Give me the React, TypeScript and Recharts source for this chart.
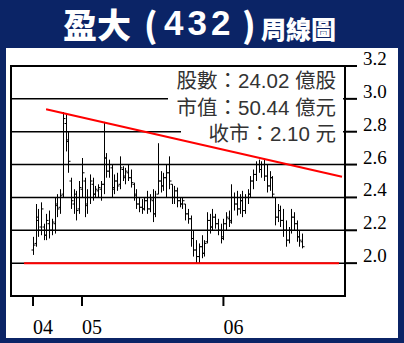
import React from "react";
import {
  ComposedChart,
  Bar,
  XAxis,
  YAxis,
  CartesianGrid,
  ReferenceLine,
  ReferenceArea,
} from "recharts";

// weekly bars, one entry per week (index = week number from first bar)
const highs = [
  2.16, 2.36, 2.33, 2.37, 2.24, 2.3, 2.32, 2.27, 2.4, 2.42,
  2.45, 2.92, 2.91, 2.8, 2.52, 2.45, 2.44, 2.5, 2.64, 2.52,
  2.45, 2.54, 2.52, 2.47, 2.48, 2.5, 2.86, 2.67, 2.63, 2.6,
  2.54, 2.55, 2.65, 2.59, 2.58, 2.6, 2.57, 2.49, 2.45, 2.4,
  2.39, 2.4, 2.44, 2.42, 2.45, 2.44, 2.73, 2.56, 2.55, 2.6,
  2.65, 2.48, 2.47, 2.46, 2.4, 2.4, 2.36, 2.33, 2.29, 2.2,
  2.14, 2.12, 2.17, 2.14, 2.31, 2.3, 2.33, 2.3, 2.27, 2.24,
  2.27, 2.31, 2.32, 2.48, 2.43, 2.44, 2.42, 2.44, 2.42, 2.45,
  2.53, 2.57, 2.62, 2.63, 2.62, 2.63, 2.6, 2.56, 2.53, 2.4,
  2.36, 2.35, 2.33, 2.26, 2.22, 2.33, 2.31, 2.26, 2.2, 2.18,
];
const lows = [
  2.05, 2.1, 2.16, 2.17, 2.14, 2.14, 2.15, 2.17, 2.18, 2.28,
  2.3, 2.4, 2.68, 2.55, 2.33, 2.3, 2.26, 2.3, 2.4, 2.28,
  2.3, 2.36, 2.38, 2.4, 2.4, 2.38, 2.42, 2.52, 2.52, 2.4,
  2.42, 2.44, 2.45, 2.5, 2.48, 2.5, 2.46, 2.38, 2.33, 2.31,
  2.3, 2.32, 2.3, 2.31, 2.25, 2.28, 2.42, 2.43, 2.44, 2.4,
  2.45, 2.36, 2.36, 2.34, 2.34, 2.33, 2.26, 2.24, 2.1, 2.04,
  2.0, 2.0, 2.03, 2.04, 2.12, 2.18, 2.2, 2.21, 2.17, 2.12,
  2.14, 2.2, 2.22, 2.24, 2.32, 2.29, 2.3, 2.28, 2.3, 2.36,
  2.4, 2.45, 2.5, 2.55, 2.52, 2.5, 2.43, 2.44, 2.4, 2.23,
  2.25, 2.22, 2.16, 2.1, 2.12, 2.18, 2.2, 2.13, 2.1, 2.09,
];
const opens = [
  2.08, 2.12, 2.26, 2.22, 2.22, 2.17, 2.24, 2.2, 2.24, 2.35,
  2.34, 2.42, 2.85, 2.75, 2.5, 2.36, 2.4, 2.33, 2.45, 2.5,
  2.36, 2.4, 2.48, 2.42, 2.44, 2.45, 2.48, 2.64, 2.56, 2.58,
  2.46, 2.5, 2.48, 2.57, 2.52, 2.55, 2.52, 2.48, 2.42, 2.36,
  2.34, 2.33, 2.38, 2.33, 2.38, 2.3, 2.42, 2.5, 2.47, 2.52,
  2.55, 2.48, 2.4, 2.44, 2.38, 2.36, 2.36, 2.3, 2.27, 2.15,
  2.08, 2.04, 2.1, 2.06, 2.13, 2.26, 2.22, 2.28, 2.24, 2.2,
  2.16, 2.24, 2.27, 2.26, 2.4, 2.36, 2.33, 2.38, 2.32, 2.4,
  2.42, 2.5, 2.54, 2.6, 2.57, 2.6, 2.53, 2.47, 2.52, 2.4,
  2.28, 2.32, 2.26, 2.2, 2.14, 2.2, 2.28, 2.24, 2.16, 2.13,
];
const closes = [
  2.11, 2.28, 2.2, 2.33, 2.17, 2.26, 2.2, 2.25, 2.36, 2.33,
  2.41, 2.88, 2.74, 2.62, 2.38, 2.42, 2.32, 2.46, 2.55, 2.35,
  2.4, 2.5, 2.42, 2.45, 2.46, 2.48, 2.64, 2.56, 2.6, 2.45,
  2.5, 2.47, 2.58, 2.53, 2.56, 2.52, 2.49, 2.41, 2.36, 2.34,
  2.33, 2.38, 2.33, 2.39, 2.3, 2.4, 2.5, 2.47, 2.52, 2.55,
  2.5, 2.4, 2.44, 2.38, 2.36, 2.38, 2.3, 2.27, 2.15, 2.08,
  2.04, 2.1, 2.06, 2.12, 2.26, 2.22, 2.28, 2.24, 2.2, 2.15,
  2.24, 2.28, 2.25, 2.4, 2.36, 2.33, 2.38, 2.32, 2.4, 2.42,
  2.5, 2.54, 2.6, 2.57, 2.6, 2.53, 2.47, 2.52, 2.42, 2.28,
  2.32, 2.26, 2.2, 2.14, 2.2, 2.28, 2.24, 2.16, 2.14, 2.1,
];

const yTicks = [2.0, 2.2, 2.4, 2.6, 2.8, 3.0, 3.2];
const xTickWeeks = [0, 18, 70];
const xTickLabels = ["04", "05", "06"];

// trend lines: [start, end] as (week, price)
const resistanceWeeks = [4.8, 113.6];
const resistancePrices = [2.937, 2.526];
const supportWeeks = [-3.3, 112.5];
const supportPrices = [2.0, 2.0];

const infoLines = ["股數：24.02 億股", "市值：50.44 億元", "收市：2.10 元"];

const BLUE = "#0b2466";
const X_DOMAIN: [number, number] = [-8.1, 114.7];

const data = highs.map((h, i) => ({
  week: i,
  high: h,
  low: lows[i],
  open: opens[i],
  close: closes[i],
}));

const OhlcBar = (props: any) => {
  const { x, y, width, height, payload } = props;
  if (x == null || !payload) return null;
  const cx = Math.round(x + width / 2) + 0.5;
  const top = Math.min(y, y + height);
  const span = Math.abs(height);
  const range = payload.high - payload.low || 1;
  const yOpen = top + ((payload.high - payload.open) / range) * span;
  const yClose = top + ((payload.high - payload.close) / range) * span;
  return (
    <g stroke="#000" strokeWidth={1}>
      <line x1={cx} x2={cx} y1={top} y2={top + span} />
      <line x1={cx - 2} x2={cx} y1={yOpen} y2={yOpen} />
      <line x1={cx} x2={cx + 2} y1={yClose} y2={yClose} />
    </g>
  );
};

const YTick = ({ x, y, payload }: any) => (
  <text
    x={x}
    y={y - 1}
    textAnchor="start"
    fill="#000"
    fontSize={19}
    fontFamily="'Liberation Serif', serif"
  >
    {Number(payload.value).toFixed(1)}
  </text>
);

const XTick = ({ x, y, payload }: any) => {
  const idx = xTickWeeks.indexOf(payload.value);
  return (
    <text
      x={x}
      y={y + 26}
      textAnchor="start"
      fill="#000"
      fontSize={20}
      fontFamily="'Liberation Serif', serif"
    >
      {xTickLabels[idx]}
    </text>
  );
};

const titleStyle: React.CSSProperties = {
  position: "absolute",
  color: "#fff",
  fontFamily: "'Noto Sans CJK TC', sans-serif",
  fontWeight: 900,
  lineHeight: 1.2,
  whiteSpace: "nowrap",
};

export default function App() {
  return (
    <div
      style={{
        position: "absolute",
        left: 0,
        top: 0,
        width: 404,
        height: 343,
        background: BLUE,
        overflow: "hidden",
      }}
    >
      <div
        style={{
          position: "absolute",
          left: 6,
          top: 48,
          width: 392,
          height: 290,
          background: "#fff",
        }}
      />

      <div style={{ position: "absolute", left: 0, top: 0 }}>
        <ComposedChart
          width={404}
          height={343}
          data={data}
          margin={{ top: 66, left: 11, right: 9, bottom: 7 }}
        >
          <CartesianGrid
            horizontal
            vertical={false}
            stroke="#000"
            strokeWidth={1.5}
            horizontalValues={yTicks}
          />
          <XAxis
            dataKey="week"
            type="number"
            domain={X_DOMAIN}
            allowDataOverflow
            ticks={xTickWeeks}
            tick={<XTick />}
            tickSize={10}
            tickMargin={2}
            tickLine={{ stroke: "#000", strokeWidth: 2 }}
            axisLine={{ stroke: "#000", strokeWidth: 2 }}
            height={40}
            interval={0}
          />
          <YAxis
            orientation="right"
            type="number"
            domain={[1.8, 3.2]}
            allowDataOverflow
            ticks={yTicks}
            tick={<YTick />}
            tickSize={12}
            tickMargin={6}
            tickLine={{ stroke: "#000", strokeWidth: 2 }}
            axisLine={{ stroke: "#000", strokeWidth: 2 }}
            width={50}
            interval={0}
          />
          <ReferenceArea
            x1={X_DOMAIN[0]}
            x2={X_DOMAIN[1]}
            y1={1.8}
            y2={3.2}
            fill="none"
            fillOpacity={0}
            stroke="#000"
            strokeWidth={2}
          />
          <Bar
            dataKey={(d: any) => [d.low, d.high]}
            barSize={4}
            shape={<OhlcBar />}
            isAnimationActive={false}
          />
          <ReferenceLine
            segment={[
              { x: resistanceWeeks[0], y: resistancePrices[0] },
              { x: resistanceWeeks[1], y: resistancePrices[1] },
            ]}
            stroke="#ff0000"
            strokeWidth={2}
          />
          <ReferenceLine
            segment={[
              { x: supportWeeks[0], y: supportPrices[0] },
              { x: supportWeeks[1], y: supportPrices[1] },
            ]}
            stroke="#ff0000"
            strokeWidth={2}
          />
        </ComposedChart>
      </div>

      <span style={{ ...titleStyle, left: 63, top: 3.6, fontSize: 34 }}>盈大</span>
      <span style={{ ...titleStyle, left: 144, top: 3.6, fontSize: 34 }}>(</span>
      <span
        style={{
          ...titleStyle,
          left: 164,
          top: 3,
          fontSize: 35,
          lineHeight: "40px",
          letterSpacing: 4,
          fontFamily: "'Liberation Sans', Arial, sans-serif",
          fontWeight: 700,
        }}
      >
        432
      </span>
      <span style={{ ...titleStyle, left: 242, top: 3.6, fontSize: 34 }}>)</span>
      <span style={{ ...titleStyle, left: 261, top: 12.5, fontSize: 25 }}>周線圖</span>

      <div
        style={{
          position: "absolute",
          left: 168,
          top: 68,
          width: 175,
          height: 54,
          background: "#fff",
        }}
      />
      <div
        style={{
          position: "absolute",
          left: 181,
          top: 122,
          width: 162,
          height: 17,
          background: "#fff",
        }}
      />
      {infoLines.map((t, i) => (
        <div
          key={t}
          style={{
            position: "absolute",
            right: 404 - 336,
            top: 70 + i * 26.5,
            fontSize: 20.5,
            lineHeight: "22px",
            color: "#333",
            fontFamily: "'Liberation Sans', 'Noto Sans CJK TC', sans-serif",
            whiteSpace: "nowrap",
          }}
        >
          {t}
        </div>
      ))}
    </div>
  );
}
